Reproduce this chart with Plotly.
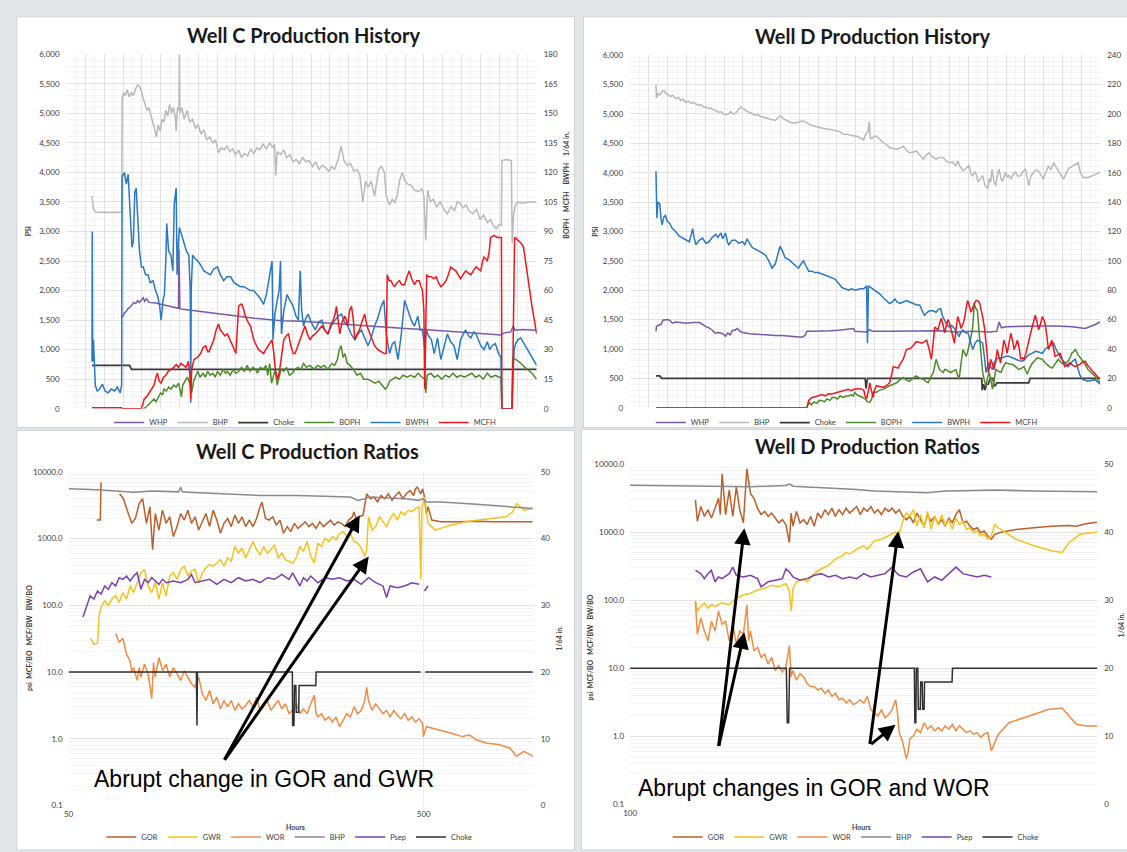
import math
import plotly.graph_objects as go

W, H = 1127, 852

# ---------------- Well C production history (hours, PSI or rate) ----------------
c_whp = [(119,1550),(123,1620),(127,1650),(131,1700),(135,1720),(139,1760),(143,1800),(147,1780),(151,1830),
         (155,1800),(159,1850),(163,1880),(166,1820),(170,1860),(175,1800),(180,1800),(190,1790),(200,1770),
         (215,1740),(230,1710),(238,1700),(239,2700),(241,1690),(260,1670),(280,1650),(300,1620),(330,1590),
         (360,1560),(400,1530),(440,1500),(456,1490),(458,1560),(460,1490),(500,1480),(550,1450),(600,1420),
         (640,1400),(680,1380),(720,1360),(760,1340),(800,1320),(850,1300),(900,1270),(924,1250),(930,1280),
         (945,1300),(950,1400),(954,1330),(970,1340),(1000,1330)]

c_bhp = [(54,3600),(57,3380),(62,3330),(80,3320),(100,3320),(117,3330),(118,5250),(121,5350),(125,5300),
         (129,5400),(133,5280),(138,5350),(142,5300),(147,5420),(151,5480),(155,5450),(159,5380),(163,5250),
         (167,5150),(171,5050),(175,5100),(179,4950),(183,4850),(187,4750),(191,4600),(195,4800),(199,4700),
         (203,4900),(207,4850),(211,5050),(215,4950),(219,5150),(223,5000),(227,5100),(231,4950),(233,4700),
         (236,5100),(239,5050),(240,6000),(241,5000),(245,5100),(250,4900),(256,5050),(262,4850),(268,4900),
         (274,4750),(280,4800),(286,4650),(292,4720),(298,4550),(304,4600),(311,4500),(317,4550),(323,4330),
         (329,4420),(335,4380),(341,4450),(347,4350),(353,4400),(359,4300),(366,4380),(372,4250),(378,4320),
         (385,4280),(392,4400),(398,4320),(405,4420),(411,4380),(418,4480),(425,4400),(432,4500),(438,4420),
         (442,4480),(445,3950),(448,4350),(455,4300),(462,4380),(468,4250),(475,4300),(482,4180),(488,4220),
         (495,4150),(502,4250),(509,4180),(516,4200),(523,4100),(530,4180),(537,4050),(544,4120),(551,4080),
         (558,4020),(564,4100),(570,4050),(577,4200),(584,4450),(590,4200),(597,4120),(604,4150),(611,4020),
         (618,4050),(624,3950),(630,3500),(636,3850),(641,3750),(648,3850),(655,3600),(660,3900),(664,4050),
         (670,4100),(676,4000),(680,3600),(687,3450),(693,3550),(698,3480),(703,3600),(708,3850),(714,4000),
         (720,3850),(726,3800),(733,3780),(740,3700),(748,3680),(756,3720),(760,3600),(764,2850),(768,3700),
         (774,3500),(780,3550),(787,3420),(795,3500),(802,3380),(810,3300),(818,3420),(825,3350),(831,3500),
         (837,3480),(844,3400),(850,3450),(856,3350),(864,3300),(872,3380),(880,3200),(887,3280),(895,3150),
         (902,3200),(908,3100),(914,3050),(920,3120),(925,3100),(926,4200),(935,4220),(946,4200),(947,3400),
         (948,2800),(951,3300),(955,3450),(960,3500),(970,3480),(985,3500),(1000,3500)]

c_choke = [(54,22),(134,22),(138,20),(1000,20)]

c_boph = [(163,0),(170,1),(176,2.5),(181,4),(186,5),(190,3.5),(195,6),(200,8),(204,7),(207,10),(212,9),
          (217,11),(222,10),(228,12),(233,11),(238,13),(242,9),(244,6),(247,12),(252,14),(257,16),(262,13),
          (266,8),(270,14),(275,17),(279,19),(284,16),(290,18),(295,16),(300,19),(305,17),(311,18),(316,16),
          (321,19),(327,17),(333,20),(338,18),(342,19),(348,17),(354,20),(360,18),(366,19),(372,21),(378,19),
          (384,22),(390,19),(396,21),(402,20),(406,18),(412,21),(418,20),(424,22),(428,17),(432,23),(436,13),
          (440,16),(444,20),(448,12),(452,17),(456,20),(462,19),(468,21),(474,17),(480,18),(486,20),(492,21),
          (498,20),(504,23),(510,21),(518,22),(526,20),(534,22),(541,21),(548,22),(556,20),(564,23),(570,22),
          (576,25),(580,30),(584,32),(588,26),(592,28),(597,23),(603,22),(610,20),(618,17),(625,18),(632,15),
          (641,15),(648,14),(656,13),(664,14),(672,12),(678,10),(682,11),(687,14),(694,15),(700,16),(708,15),
          (716,17),(724,16),(732,17),(740,16),(748,18),(756,16),(762,15),(764,8),(767,17),(775,18),(782,16),
          (790,17),(798,15),(806,17),(814,16),(822,18),(830,16),(838,17),(846,16),(854,17),(862,18),(870,16),
          (878,17),(886,15),(895,18),(903,16),(912,17),(920,16),(924,16),(926,0),(947,0),(949,26),(955,25),
          (962,24),(975,21),(990,18),(1000,15)]

c_bwph = [(54,24),(54.5,90),(55.5,24),(57,35),(59,25),(61,12),(65,9),(70,10),(76,12.5),(82,9),(88,8),
          (95,10),(102,9),(108,11),(114,8),(117,12),(118,118),(123,120),(127,114),(131,119),(135,100),(139,82),
          (142,85),(145,110),(148,112),(152,92),(155,80),(159,72),(163,72),(168,68),(173,68),(178,64),(184,65),
          (189,60),(194,57),(198,52),(201,45),(205,55),(208,58),(211,75),(213,94),(217,80),(222,78),(226,70),
          (229,104),(233,112),(235,68),(238,85),(240,92),(245,88),(249,85),(255,80),(260,78),(263,60),(264,3),
          (265,60),(268,78),(274,76),(279,75),(285,73),(292,70),(299,69),(306,68),(313,71),(321,72),(327,68),
          (334,65),(341,67),(349,67),(356,64),(363,63),(370,62),(377,62),(384,61),(391,60),(398,60),(405,58),
          (412,56),(419,53),(425,58),(430,65),(435,74),(437,75),(439,35),(443,48),(448,55),(452,60),(455,75),
          (457,38),(462,50),(469,58),(475,55),(482,52),(488,47),(493,45),(497,70),(500,50),(504,42),(509,46),
          (514,48),(520,44),(529,40),(536,44),(543,45),(549,40),(556,38),(563,42),(571,45),(578,47),(585,48),
          (591,44),(598,42),(605,38),(613,35),(620,38),(627,40),(634,36),(641,32),(648,36),(655,42),(662,46),
          (669,52),(675,55),(680,38),(687,28),(693,33),(698,34),(705,25),(712,38),(719,55),(726,50),(733,45),
          (740,42),(747,47),(752,40),(757,40),(762,30),(765,40),(770,37),(776,35),(782,28),(789,36),(796,25),
          (803,32),(810,38),(817,34),(824,32),(831,25),(838,35),(844,38),(849,40),(855,37),(860,36),(866,39),
          (871,38),(876,35),(881,32),(888,30),(895,34),(900,30),(905,32),(912,33),(919,28),(924,26),(926,0),
          (947,0),(952,30),(955,33),(960,35),(966,36),(973,33),(980,30),(990,26),(1000,22)]

c_mcfh = [(54,0.5),(117,0.5),(118,0),(158,0),(162,2),(165,5),(170,6),(175,8),(180,10),(186,12),(190,16),
          (193,18),(197,14),(201,13),(206,16),(211,17),(216,19),(222,20),(228,21),(233,22.5),(238,21),(243,23),
          (248,22),(254,21),(259,24),(262,18),(264,5),(266,20),(271,25),(278,26),(285,28),(290,31),(296,32),
          (300,29),(303,29),(308,32),(313,35),(318,40),(323,43),(327,40),(331,39),(337,37),(342,38),(348,35),
          (353,32),(357,30),(360,28),(363,40),(366,52),(370,53),(373,53),(377,50),(380,47),(386,44),(391,42),
          (395,38),(398,35),(404,32),(408,30),(414,29),(419,28),(426,31),(431,33),(437,35),(441,28),(444,20),
          (448,15),(452,18),(455,23),(459,30),(462,35),(467,37),(472,38),(477,32),(482,28),(486,28),(492,32),
          (497,35),(502,38),(507,42),(512,38),(518,35),(523,37),(529,38),(536,40),(543,42),(549,40),(556,38),
          (561,42),(567,45),(571,48),(574,52),(578,44),(581,38),(586,44),(592,47),(595,45),(598,42),(602,50),
          (606,52),(610,45),(613,35),(618,38),(623,40),(628,44),(634,48),(639,42),(645,38),(650,35),(655,32),
          (662,30),(669,29),(676,28),(680,28),(682,68),(686,65),(690,65),(694,63),(698,62),(703,64),(708,65),
          (713,63),(719,63),(724,67),(729,70),(734,66),(740,63),(745,65),(750,65),(754,62),(757,60),(760,50),
          (762,10),(764,40),(766,68),(771,67),(776,67),(781,66),(786,67),(791,64),(796,62),(801,63),(807,65),
          (812,68),(817,72),(822,71),(828,70),(833,68),(838,66),(843,68),(849,70),(854,69),(860,68),(865,70),
          (871,72),(876,71),(881,70),(885,75),(888,77),(892,76),(895,75),(899,80),(902,87),(909,88),(916,87),
          (925,87),(926,0),(948,0),(953,87),(958,86),(962,85),(967,84),(972,82),(976,75),(980,68),(990,52),
          (1000,38)]

# ---------------- Well D production history ----------------
d_whp = [(55,1300),(56,1380),(59,1400),(66,1420),(70,1490),(78,1500),(84,1490),(90,1440),(97,1460),(105,1450),
         (112,1450),(120,1440),(133,1450),(148,1450),(161,1380),(168,1360),(175,1320),(181,1270),(188,1280),
         (197,1260),(203,1220),(208,1270),(213,1240),(218,1320),(223,1320),(228,1350),(234,1300),(240,1280),
         (254,1260),(268,1250),(281,1240),(295,1240),(309,1230),(323,1230),(338,1220),(352,1210),(366,1200),
         (372,1230),(376,1300),(392,1300),(408,1300),(425,1310),(443,1320),(460,1330),(476,1350),(478,1300),
         (503,1290),(510,1330),(515,1300),(552,1300),(600,1300),(660,1310),(693,1290),(730,1300),(763,1290),
         (780,1300),(785,1460),(790,1360),(800,1380),(835,1390),(870,1390),(905,1390),(940,1380),(968,1350),
         (985,1400),(1000,1460)]

d_bhp = [(55,5500),(56,5270),(59,5350),(63,5320),(68,5380),(72,5400),(76,5350),(80,5330),(86,5300),(91,5320),
         (97,5260),(103,5280),(108,5230),(113,5250),(118,5200),(124,5220),(130,5180),(135,5200),(140,5170),
         (146,5150),(151,5160),(156,5120),(161,5120),(167,5090),(172,5100),(177,5070),(182,5060),(188,5030),
         (193,5040),(198,5000),(203,5000),(208,4990),(214,5040),(219,5000),(224,5010),(230,5080),(235,5120),
         (240,5090),(245,5060),(250,5040),(256,5020),(261,5000),(266,4980),(272,4990),(277,4960),(282,4950),
         (288,4930),(293,4920),(298,4910),(304,4900),(309,4890),(314,4930),(319,4970),(325,4930),(330,4900),
         (335,4880),(341,4860),(346,4850),(351,4840),(356,4860),(362,4870),(367,4880),(372,4870),(377,4840),
         (382,4820),(388,4800),(393,4790),(398,4780),(403,4770),(409,4760),(414,4760),(419,4740),(425,4740),
         (430,4730),(436,4720),(441,4710),(446,4700),(451,4670),(457,4650),(462,4660),(467,4640),(472,4635),
         (478,4630),(482,4620),(488,4600),(493,4580),(497,4560),(500,4640),(503,4680),(506,4700),(509,4870),
         (511,4600),(514,4580),(519,4620),(524,4620),(531,4560),(539,4510),(545,4480),(552,4430),(560,4410),
         (567,4400),(574,4420),(581,4450),(587,4390),(594,4340),(601,4350),(609,4370),(616,4300),(624,4230),
         (630,4300),(636,4340),(643,4270),(651,4230),(658,4260),(666,4260),(672,4200),(679,4170),(686,4180),
         (693,4120),(697,4200),(701,4120),(708,4030),(714,4080),(721,4120),(725,3980),(729,3950),(733,4020),
         (736,3980),(740,3840),(745,3900),(750,3950),(755,3780),(761,3730),(764,3900),(767,3840),(770,4060),
         (774,3850),(778,3780),(781,3950),(785,4060),(789,3900),(792,3850),(796,3950),(799,4010),(803,3920),
         (806,3960),(810,3890),(815,3970),(820,4010),(825,3940),(831,3950),(836,4030),(841,4060),(845,3900),
         (848,3780),(853,3950),(858,4010),(863,4050),(869,4030),(874,3970),(879,3890),(884,4000),(890,4120),
         (895,4050),(901,4170),(906,4100),(911,4030),(916,3980),(922,3890),(927,3980),(932,4060),(937,4090),
         (943,4120),(948,4140),(953,4170),(958,4000),(964,3920),(969,3920),(974,3920),(987,3960),(1000,4010)]

d_choke = [(55,21.7),(63,21.7),(67,20),(500,20),(502,13),(505,20),(748,20),(749,12),(752,16),(755,12),
           (758,16),(762,16),(766,20),(772,20),(774,15),(777,15),(780,17),(848,17),(851,20),(1000,20)]

d_boph = [(55,0),(376,0),(380,3.8),(386,2),(391,4),(397,3),(402,5),(408,5),(413,4),(419,6),(425,5),(430,7),
          (436,7),(441,6),(447,8),(453,7),(459,8),(465,8),(470,9),(475,8),(478,10.5),(482,9),(488,8),(494,7),
          (500,6),(505,4),(510,3.8),(514,6),(517,10.5),(524,10.5),(531,12),(539,12.7),(545,14),(552,15),
          (560,16),(567,17),(574,19),(581,20.6),(587,19),(594,18),(601,20),(609,21.7),(616,20),(624,19.4),
          (629,18),(634,17),(640,21),(645,24),(651,33),(655,28),(658,26),(662,25),(666,24),(669,26),(672,26),
          (677,25),(682,24),(687,25),(693,26),(696,23),(700,19.4),(704,30),(708,39.6),(712,37),(715,35),
          (718,38),(721,41.8),(725,48),(729,55),(732,71),(735,68),(739,66),(742,53),(746,38),(750,24),(754,18),
          (757,15),(760,20),(764,24),(768,18),(771,12.7),(775,20),(778,26),(783,25),(789,24),(794,28),
          (799,30.6),(806,30),(814,29.5),(820,28),(827,26),(833,27),(838,28),(842,25),(845,22.8),(850,27),
          (856,30.6),(861,32),(866,34),(872,33.5),(877,33),(882,31),(887,29.5),(892,28),(898,27),(904,30),
          (911,33),(916,31),(922,29.5),(927,30.5),(932,31.7),(936,34),(939,37),(943,38),(947,39.6),(950,38),
          (953,36),(958,34),(964,31.7),(969,29),(974,26),(981,24),(989,21.7),(995,19),(1000,17)]

d_bwph = [(55,161),(56,142),(57,129),(59,140),(63,139),(66,128),(68,124.5),(72,130),(75,131),(79,127),
          (84,125.6),(90,122),(97,120),(104,117),(112,115.5),(119,114),(126,113),(130,118),(133,122),(136,116),
          (140,111),(147,114),(154,115.5),(161,112),(168,113),(175,116),(182,118),(187,116),(193,119),(197,115),
          (200,117),(203,119),(207,113),(210,111),(217,114),(224,114),(231,112),(239,113),(244,111),(249,115),
          (254,112),(260,109),(267,108),(274,106.6),(281,105),(288,104),(295,100),(302,95),(309,98),(314,104),
          (319,110),(325,106),(330,102),(337,101),(344,99),(351,97),(358,95),(364,98),(369,100),(375,96),
          (380,93),(387,93),(393,92),(400,92),(408,91),(415,90),(422,89),(429,88),(436,87.6),(443,85),(450,82),
          (457,81),(465,80),(471,81),(478,80),(490,81),(497,81),(503,83),(505,44),(507,83),(512,82),(517,81),
          (524,79),(531,77.6),(538,75),(545,73),(552,71),(558,72),(563,74),(568,72),(574,71),(581,72),(588,73),
          (595,72),(602,71),(609,70),(616,70),(621,66),(626,63),(632,65),(637,66),(644,66),(651,65),(656,67),
          (661,67.5),(664,63),(668,60),(673,57),(679,55),(684,56),(690,54),(695,51),(700,48.5),(704,52),
          (708,53),(714,51),(719,50.7),(724,45),(729,39.6),(734,44),(739,46),(745,45),(750,44),(754,34),
          (757,24),(760,28),(764,30.6),(767,28),(771,26),(774,30),(778,33),(785,34),(792,34),(799,35),(806,35),
          (813,34),(820,33),(828,32),(835,31.7),(841,34),(848,36),(855,37),(862,38.4),(869,38),(877,37),
          (883,40),(890,41.8),(895,43),(901,44),(906,40),(911,37),(916,34),(922,31.7),(927,30),(932,28),
          (937,30),(942,32),(947,33),(952,28),(957,22),(962,19.4),(968,18.5),(974,18),(981,18.5),(989,19),
          (995,17.5),(1000,16)]

d_mcfh = [(55,0),(376,0),(380,5),(387,7),(394,7.5),(401,8),(408,9),(415,8),(422,9.5),(429,9.4),(436,10),
          (443,10.5),(450,11),(457,11.6),(464,12.5),(471,11.6),(478,12.7),(490,13),(497,12),(500,8),(503,6),
          (506,10),(510,17),(513,12),(517,7),(520,12),(524,15),(531,14.5),(539,13.9),(545,15),(552,17),(556,22),
          (560,28),(565,27.5),(570,27),(575,30),(581,33),(588,39.6),(593,40),(598,40.7),(604,43),(609,45),
          (615,44.5),(620,44),(626,45),(631,46),(636,40),(641,33),(645,45),(648,55),(652,54),(655,53),(659,58),
          (662,61),(666,56),(669,51),(672,55),(676,60),(680,57),(683,53),(687,48),(690,44),(694,55),(697,62),
          (701,58),(704,54),(708,57),(711,60),(715,68),(718,73),(722,69),(725,65),(729,68),(732,71),(736,73),
          (739,73),(742,72),(744,71),(747,66),(750,62),(754,54),(757,46),(760,35),(762,24),(765,28),(767,33),
          (771,30),(774,26),(778,32),(781,39.6),(785,35),(788,30.6),(792,38),(795,46),(799,42),(802,37),
          (806,44),(810,50.7),(814,45),(817,39.6),(821,43),(824,46),(828,40),(831,33),(835,34),(838,33),
          (842,37),(845,41.8),(849,46),(852,50.7),(857,57),(862,63),(866,58),(869,53),(873,57),(877,62),
          (880,60),(883,57),(887,48),(890,39.6),(894,43),(897,46),(901,40),(904,35),(910,36),(915,37),(920,32),
          (925,28),(930,29),(936,30.6),(941,29),(947,28),(952,29),(957,29.5),(962,31),(968,31.7),(973,29),
          (978,27),(984,25),(989,22.8),(995,21),(1000,19.4)]

# ---------------- Well C production ratios (hours, ratio) ----------------
rc_gor = [(60.0,1890),(61.4,1890),(61.7,6960),(None,None),(69.6,4680),(71.3,3950),(73.1,2660),(75.3,1690),
          (77.1,2000),(79.0,3330),(80.8,3950),(82.8,1690),(84.7,2980),(86.2,680),(87.7,2370),(89.8,1340),
          (91.9,2660),(94.1,1690),(96.3,2120),(98.6,1070),(101.0,1510),(103.4,2370),(105.8,1890),(108.3,2660),
          (110.9,1690),(113.5,2120),(116.2,1340),(119.0,1780),(121.8,2370),(124.7,1510),(127.6,2660),
          (130.7,1890),(133.8,1200),(136.9,1690),(140.2,2000),(143.5,1510),(146.9,2240),(150.4,1690),
          (153.9,2120),(157.6,1510),(161.3,1890),(165.2,1510),(169.1,2000),(173.0,2980),(175.1,3530),
          (179.2,2000),(183.5,1890),(187.8,2120),(192.3,1590),(196.9,1890),(201.5,1200),(206.3,1510),
          (211.2,1270),(216.2,1690),(221.3,1420),(226.6,1590),(231.9,1780),(237.4,1510),(243.1,1690),
          (248.8,1420),(254.7,1780),(260.8,1510),(266.9,1690),(273.3,1890),(279.7,1590),(286.4,1780),
          (293.2,1690),(300.2,1510),(307.3,1890),(314.5,2120),(318.2,2510),(322.0,2000),(329.6,2120),
          (337.4,2240),(345.3,4680),(353.5,3950),(361.9,4180),(370.5,3530),(379.3,4420),(388.3,3950),
          (397.5,4680),(406.9,3730),(416.5,4420),(426.4,4950),(436.5,3950),(446.8,4680),(457.4,5240),
          (468.3,4420),(473.8,5550),(479.4,5870),(485.0,5240),(490.8,4680),(496.5,5550),(502.4,4180),
          (508.3,2370),(514.3,2980),(526.5,1890),(558,1780),(627,1780),(705,1820),(793,1780),(891,1760),
          (1013,1780)]

rc_gwr = [(57.7,32),(58.9,26),(60.3,27),(61.0,75),(62.0,99),(63.2,117),(64.7,99),(66.2,124),(67.8,139),
          (69.4,110),(71.1,155),(72.8,124),(74.5,195),(76.2,155),(78.0,218),(79.9,307),(81.8,344),(83.7,195),
          (85.7,155),(87.7,218),(89.8,124),(91.9,218),(94.1,139),(96.3,274),(98.6,307),(101.0,245),(103.4,344),
          (105.8,385),(108.3,274),(110.9,325),(113.5,344),(116.2,218),(119.0,307),(121.8,364),(124.7,408),
          (127.6,385),(130.7,431),(133.8,483),(136.9,385),(140.2,512),(143.5,457),(146.9,761),(150.4,607),
          (153.9,719),(157.6,512),(161.3,680),(165.2,902),(169.1,680),(173.0,573),(177.1,761),(181.3,607),
          (185.6,680),(190.0,805),(194.6,512),(199.2,607),(203.9,483),(208.8,457),(213.7,431),(218.7,512),
          (223.9,761),(229.2,642),(234.7,902),(240.3,541),(245.9,431),(251.8,852),(257.7,761),(263.8,1010),
          (270.1,902),(276.5,1070),(283.0,955),(289.8,1200),(296.7,1270),(303.7,1070),(310.8,1200),(318.2,902),
          (325.7,852),(333.4,719),(341.3,541),(345.3,680),(349.4,2120),(357.7,1340),(366.2,1510),(374.9,2120),
          (383.8,1780),(392.8,1510),(402.1,2000),(411.6,2370),(421.4,1890),(431.4,2510),(441.6,2240),
          (452.1,2660),(462.8,2510),(473.8,2810),(485.0,2980),(490.8,245),(494.2,2980),(502.4,4180),
          (514.3,1690),(526.5,1510),(539.0,1340),(558,1420),(599,1590),(657,1780),(705,1890),(773,2000),
          (852,2120),(891,2510),(913,3330),(958,2660),(1013,2810)]

rc_wor = [(67.8,38),(69.4,28),(71.1,32),(72.8,18.4),(74.5,14.7),(75.3,10),(76.2,11.7),(78.0,7.5),(79.0,11.7),
          (79.9,8.4),(81.8,13.1),(83.7,9.4),(85.7,4.0),(86.7,13.9),(87.7,8.4),(89.8,16.5),(91.9,10.5),
          (94.1,13.1),(96.3,8.4),(98.6,11.7),(101.0,9.4),(103.4,7.5),(105.8,10.5),(108.3,8.4),(110.9,6.7),
          (113.5,5.9),(116.2,8.4),(119.0,4.7),(121.8,3.75),(124.7,5.3),(127.6,3.35),(130.7,4.2),(133.8,2.8),
          (136.9,3.75),(140.2,3.0),(143.5,3.75),(146.9,2.67),(150.4,3.35),(153.9,2.8),(157.6,3.16),(161.3,3.75),
          (165.2,3.0),(169.1,4.2),(173.0,2.67),(177.1,3.35),(181.3,3.75),(185.6,2.67),(190.0,3.16),(194.6,3.75),
          (199.2,2.8),(203.9,3.35),(208.8,2.38),(213.7,2.67),(218.7,3.35),(223.9,2.38),(229.2,2.8),(234.7,2.38),
          (240.3,3.35),(245.9,4.5),(248.8,2.38),(251.8,2.13),(257.7,2.38),(263.8,1.90),(270.1,2.13),(276.5,1.79),
          (283.0,2.13),(289.8,1.52),(296.7,1.90),(303.7,2.38),(310.8,2.13),(318.2,3.0),(325.7,2.38),(333.4,2.67),
          (341.3,3.75),(345.3,5.9),(349.4,3.75),(357.7,2.67),(366.2,3.35),(374.9,2.8),(383.8,2.38),(392.8,2.67),
          (402.1,2.13),(411.6,2.67),(421.4,2.25),(431.4,2.0),(441.6,2.38),(452.1,1.90),(462.8,2.13),(473.8,1.79),
          (485.0,2.0),(496.5,1.70),(498.8,1.08),(508.3,1.52),(532.7,1.43),(558,1.35),(599,1.21),(642,1.08),
          (673,1.14),(705,0.96),(755,0.86),(812,0.82),(873,0.73),(913,0.55),(958,0.65),(1013,0.55)]

rc_bhp = [(50,5550),(60,5400),(68,5150),(76,4950),(86,5150),(96,5040),(102,5000),(103.4,5870),(104.5,5000),
          (108,4950),(137,4680),(173,4420),(219,4420),(277,4300),(311,4180),(326,3730),(341,3950),(349,4180),
          (442,3950),(485,3730),(497,3950),(508,3530),(558,3530),(705,3260),(891,2980),(1013,2810)]

rc_psep = [(54.9,67),(56.2,99),(57.5,139),(58.9,124),(60.3,164),(61.7,147),(63.2,195),(64.7,174),(66.2,218),
           (67.8,195),(69.4,259),(71.1,245),(72.8,274),(74.5,231),(76.2,274),(78.0,307),(79.9,174),(81.8,245),
           (83.7,218),(85.7,259),(87.7,231),(89.8,206),(91.9,245),(94.1,218),(98.6,231),(103.4,218),(108.3,245),
           (110.9,290),(113.5,218),(119.0,231),(124.7,245),(130.7,206),(136.9,245),(143.5,218),(150.4,259),
           (157.6,231),(165.2,245),(173.0,218),(181.3,259),(190.0,245),(199.2,290),(208.8,245),(213.7,307),
           (218.7,245),(223.9,195),(229.2,259),(234.7,231),(240.3,274),(251.8,218),(263.8,259),(276.5,245),
           (289.8,259),(303.7,231),(318.2,245),(333.4,206),(349.4,259),(366.2,218),(383.8,195),(392.8,131),
           (402.1,195),(421.4,184),(441.6,195),(462.8,218),(485.0,206),(None,None),(502.4,164),(514.3,195)]

rc_choke = [(50,20),(114.5,20),(114.9,12),(115.3,20),(213.3,20),(213.7,12),(215.5,12),(216.2,18),(218.2,18),
            (218.7,14),(222.3,14),(222.8,18),(248.4,18),(248.8,20),(490,20),(None,None),(505,20),(1013,20)]

# ---------------- Well D production ratios ----------------
rd_gor = [(138.0,2960),(139.3,1440),(141.7,2370),(144.2,1700),(146.8,2125),(149.3,1610),(152.0,2245),
          (154.6,3120),(156.0,1800),(157.4,7170),(160.1,1800),(163.0,4130),(165.9,1700),(168.8,4600),
          (171.7,2125),(174.8,1365),(177.8,8470),(181.0,3690),(184.2,3120),(187.4,2245),(190.7,1800),
          (194.1,2010),(197.5,1700),(201.0,1900),(204.5,1610),(208.1,1365),(211.8,1520),(215.5,1290),
          (219.3,702),(221.2,1900),(223.2,1220),(227.1,2010),(231.1,1365),(235.2,1520),(239.3,1290),
          (243.5,1700),(247.8,1220),(252.2,1900),(256.6,1610),(261.2,2125),(265.8,1800),(270.4,2245),
          (275.2,1700),(280.0,2125),(285.0,1800),(290.0,2245),(295.1,1900),(300.3,2125),(305.6,2370),
          (311.0,1800),(316.4,2245),(322.0,2010),(327.7,2370),(333.5,1900),(339.3,2125),(345.3,1800),
          (351.4,2245),(357.6,2010),(363.9,2245),(370.3,1900),(376.8,2125),(383.5,1700),(390.2,1520),
          (397.1,1700),(404.1,1365),(411.2,1900),(418.5,1520),(425.9,1220),(433.3,1800),(441.0,1440),
          (448.8,1700),(456.7,1290),(464.7,1520),(472.8,1220),(481.2,1610),(489.6,1365),(498.3,1800),
          (507.0,2125),(516.0,1365),(525.1,1440),(534.3,1220),(543.7,1090),(553.3,1155),(563.0,978),
          (572.9,1035),(583.0,876),(593.3,784),(603.7,926),(625.2,1000),(670.5,1090),(731.6,1155),
          (798.3,1220),(871.2,1250),(902.2,1220),(950.6,1335),(1000,1395)]

rd_gwr = [(138.0,95.7),(139.3,68.7),(141.7,81),(144.2,90.6),(146.8,76.7),(149.3,85.7),(152.0,81),(157.4,90.6),
          (163.0,85.7),(168.8,107),(174.8,119),(181.0,126),(187.4,141),(194.1,149),(201.0,166),(208.1,157),
          (215.5,176),(219.3,133),(221.2,68.7),(223.2,149),(227.1,186),(235.2,207),(239.3,186),(247.8,245),
          (256.6,289),(265.8,323),(275.2,403),(285.0,450),(290.0,503),(295.1,476),(305.6,562),(316.4,628),
          (322.0,562),(333.5,742),(345.3,784),(357.6,876),(370.3,1000),(376.8,926),(383.5,1440),(390.2,1900),
          (397.1,1700),(404.1,2125),(411.2,1220),(418.5,1800),(425.9,1155),(433.3,2010),(441.0,1090),
          (448.8,1700),(456.7,1290),(464.7,1800),(472.8,1220),(481.2,1520),(489.6,1090),(498.3,1610),
          (507.0,1290),(516.0,1440),(525.1,1090),(534.3,1155),(543.7,978),(553.3,1035),(563.0,876),(572.9,926),
          (583.0,784),(593.3,876),(603.7,1290),(614.4,1155),(670.5,784),(731.6,628),(798.3,532),(841.2,503),
          (871.2,702),(918.1,926),(967.3,978),(1000,1000)]

rd_wor = [(138.0,95.7),(139.3,31.6),(141.7,55),(144.2,35.3),(146.8,25.3),(149.3,49.2),(152.0,35.3),
          (154.6,68.7),(157.4,44.1),(160.1,49.2),(163.0,25.3),(165.9,44.1),(168.8,22.6),(171.7,35.3),
          (174.8,31.6),(177.8,85.7),(179.4,25.3),(181.0,35.3),(184.2,18.1),(187.4,20.3),(190.7,14.5),
          (194.1,16.2),(197.5,11.6),(201.0,14.5),(204.5,9.3),(208.1,11.0),(211.8,8.8),(215.5,10.4),(219.3,21.4),
          (221.2,7.5),(223.2,9.3),(227.1,6.7),(231.1,8.4),(235.2,7.5),(239.3,6.0),(243.5,5.4),(247.8,5.4),
          (252.2,4.8),(256.6,5.1),(261.2,4.3),(265.8,4.8),(270.4,3.87),(275.2,4.3),(280.0,3.46),(285.0,3.66),
          (290.0,3.1),(295.1,3.46),(300.3,2.93),(305.6,3.1),(311.0,3.46),(316.4,3.1),(322.0,3.87),(327.7,2.48),
          (333.5,2.22),(339.3,1.99),(345.3,2.48),(351.4,1.88),(357.6,2.10),(363.9,2.48),(370.3,3.46),
          (373.6,2.22),(376.8,1.14),(383.5,0.82),(390.2,0.47),(393.7,0.59),(397.1,0.92),(404.1,1.02),
          (411.2,1.28),(418.5,1.14),(425.9,1.59),(433.3,1.28),(441.0,1.43),(448.8,1.21),(456.7,1.35),
          (464.7,1.21),(472.8,1.43),(481.2,1.28),(489.6,1.51),(498.3,1.21),(507.0,1.43),(516.0,1.28),
          (525.1,1.14),(534.3,1.21),(543.7,1.08),(553.3,1.14),(563.0,0.97),(572.9,1.08),(583.0,1.14),
          (593.3,0.62),(614.4,1.08),(647.4,1.59),(682.3,1.78),(731.6,2.10),(784.5,2.48),(841.2,2.62),
          (902.2,1.51),(950.6,1.43),(1000,1.43)]

rd_bhp = [(100,4870),(127.6,4710),(181,4600),(215.5,4820),(219.3,5040),(223.2,4710),(256.6,4510),(305.6,4220),
          (333.5,3990),(363.9,3900),(397.1,3810),(433.3,3770),(472.8,3990),(516.0,4040),(614.4,4130),
          (731.6,3990),(871.2,3950),(1000,3900)]

rd_psep = [(138.0,273),(141.7,245),(144.2,207),(146.8,245),(149.3,273),(152.0,186),(154.6,219),(157.4,207),
           (163.0,245),(165.9,306),(168.8,232),(174.8,219),(181.0,232),(187.4,207),(190.7,157),(197.5,186),
           (204.5,196),(211.8,207),(215.5,289),(219.3,259),(223.2,219),(231.1,196),(239.3,207),(247.8,232),
           (256.6,245),(265.8,219),(275.2,232),(285.0,207),(295.1,219),(305.6,207),(316.4,245),(327.7,219),
           (339.3,232),(351.4,245),(363.9,306),(370.3,259),(376.8,232),(390.2,219),(404.1,259),(418.5,289),
           (433.3,186),(448.8,219),(464.7,196),(481.2,245),(498.3,306),(516.0,245),(534.3,232),(553.3,219),
           (572.9,232),(593.3,219)]

rd_choke = [(100,20),(216,20),(217,12),(218.5,12),(219.5,20),(406,20),(407,12),(409,12),(410,20),(413,20),
            (414,14),(418,14),(419,18),(422,18),(423,14),(426,14),(427,18),(489,18),(490,20),(1000,20)]

# Arrow annotations: (head hours, head value), (tail hours, tail value)
arrows_c = [((330, 2240), (136.6, 0.46)), ((350, 540), (136.6, 0.46))]
arrows_d = [((175.6, 1140), (154.6, 0.69)), ((175.6, 33.7), (154.6, 0.69)),
            ((375, 1030), (325.7, 0.74)), ((370, 1.49), (325.7, 0.74))]

# ---------------- styling ----------------
COL = dict(WHP='#7a5aa8', BHP='#b9b9b9', Choke='#3a3a3a', BOPH='#4f8a2a', BWPH='#2a78c2', MCFH='#f0161b',
           GOR='#b95f2a', GWR='#f5c21b', WOR='#ef8c45', RBHP='#8a8a8a', Psep='#7b3fb0', RChoke='#303030')
FONT = 'Lato'
TICK = dict(family=FONT, size=8, color='#404040')


def px(x):
    return x / W


def py(y):
    return 1 - y / H


def xy(pairs):
    return [p[0] for p in pairs], [p[1] for p in pairs]


fig = go.Figure()


def add(pairs, name, color, xa, ya, legend, width=1.5):
    x, y = xy(pairs)
    fig.add_trace(go.Scatter(x=x, y=y, mode='lines', name=name, line=dict(color=color, width=width),
                             xaxis=xa, yaxis=ya, legend=legend, connectgaps=False, hoverinfo='skip'))


# Well C history
add(c_whp, 'WHP', COL['WHP'], 'x', 'y', 'legend')
add(c_bhp, 'BHP', COL['BHP'], 'x', 'y', 'legend')
add(c_choke, 'Choke', COL['Choke'], 'x', 'y2', 'legend', 1.7)
add(c_boph, 'BOPH', COL['BOPH'], 'x', 'y2', 'legend')
add(c_bwph, 'BWPH', COL['BWPH'], 'x', 'y2', 'legend')
add(c_mcfh, 'MCFH', COL['MCFH'], 'x', 'y2', 'legend')
# Well D history
add(d_whp, 'WHP', COL['WHP'], 'x2', 'y3', 'legend2')
add(d_bhp, 'BHP', COL['BHP'], 'x2', 'y3', 'legend2')
add(d_choke, 'Choke', COL['Choke'], 'x2', 'y4', 'legend2', 1.7)
add(d_boph, 'BOPH', COL['BOPH'], 'x2', 'y4', 'legend2')
add(d_bwph, 'BWPH', COL['BWPH'], 'x2', 'y4', 'legend2')
add(d_mcfh, 'MCFH', COL['MCFH'], 'x2', 'y4', 'legend2')
# Well C ratios
add(rc_gor, 'GOR', COL['GOR'], 'x3', 'y5', 'legend3')
add(rc_gwr, 'GWR', COL['GWR'], 'x3', 'y5', 'legend3')
add(rc_wor, 'WOR', COL['WOR'], 'x3', 'y5', 'legend3')
add(rc_bhp, 'BHP', COL['RBHP'], 'x3', 'y5', 'legend3')
add(rc_psep, 'Psep', COL['Psep'], 'x3', 'y5', 'legend3')
add(rc_choke, 'Choke', COL['RChoke'], 'x3', 'y6', 'legend3')
# Well D ratios
add(rd_gor, 'GOR', COL['GOR'], 'x4', 'y7', 'legend4')
add(rd_gwr, 'GWR', COL['GWR'], 'x4', 'y7', 'legend4')
add(rd_wor, 'WOR', COL['WOR'], 'x4', 'y7', 'legend4')
add(rd_bhp, 'BHP', COL['RBHP'], 'x4', 'y7', 'legend4')
add(rd_psep, 'Psep', COL['Psep'], 'x4', 'y7', 'legend4')
add(rd_choke, 'Choke', COL['RChoke'], 'x4', 'y8', 'legend4')

GRID = '#e2e2e2'
MINOR = '#f3f3f3'


def hist_x(dom):
    return dict(domain=dom, range=[0, 1000], showticklabels=False, showgrid=True, gridcolor=GRID,
                dtick=40, zeroline=False, showline=False,
                minor=dict(dtick=20, showgrid=True, gridcolor=MINOR))


def hist_y(dom, anchor):
    return dict(domain=dom, anchor=anchor, range=[0, 6000], dtick=500, tickformat=',d', tickfont=TICK,
                showgrid=True, gridcolor=GRID, zeroline=False, ticklabelstandoff=6,
                minor=dict(dtick=100, showgrid=True, gridcolor=MINOR))


def right_y(over, anchor, top, step):
    return dict(overlaying=over, anchor=anchor, side='right', range=[0, top], dtick=step, tickfont=TICK,
                showgrid=False, zeroline=False, ticklabelstandoff=6)


def ratio_y(dom, anchor):
    return dict(domain=dom, anchor=anchor, type='log', range=[-1, 4],
                tickvals=[0.1, 1, 10, 100, 1000, 10000],
                ticktext=['0.1', '1.0', '10.0', '100.0', '1000.0', '10000.0'],
                tickfont=TICK, showgrid=True, gridcolor=GRID, zeroline=False, ticklabelstandoff=5,
                minor=dict(dtick='D1', showgrid=True, gridcolor=MINOR))


def ratio_x(dom, lo, hi, vals, anchor):
    return dict(domain=dom, anchor=anchor, type='log', range=[math.log10(lo), math.log10(hi)],
                tickvals=vals, ticktext=[str(v) for v in vals], tickfont=TICK, showgrid=True,
                gridcolor='#ececec', zeroline=False, ticklabelstandoff=2)


legend_common = dict(orientation='h', xanchor='center', yanchor='middle', bgcolor='rgba(0,0,0,0)',
                     font=dict(family=FONT, size=7.5, color='#404040'), itemwidth=30, tracegroupgap=0)

fig.update_layout(
    width=W, height=H, margin=dict(l=0, r=0, t=0, b=0),
    paper_bgcolor='#e3e6e9', plot_bgcolor='white',
    font=dict(family=FONT),
    xaxis=hist_x([px(60), px(533)]),
    yaxis=hist_y([py(410), py(50)], 'x'),
    yaxis2=right_y('y', 'x', 180, 15),
    xaxis2=hist_x([px(627), px(1100)]),
    yaxis3=hist_y([py(409), py(51)], 'x2'),
    yaxis4=right_y('y3', 'x2', 240, 20),
    xaxis3=ratio_x([px(62), px(530)], 50, 1020, [50, 500], 'y5'),
    yaxis5=ratio_y([py(813), py(474)], 'x3'),
    yaxis6=right_y('y5', 'x3', 50, 10),
    xaxis4=ratio_x([px(627), px(1097)], 100, 1000, [100], 'y7'),
    yaxis7=ratio_y([py(812), py(466)], 'x4'),
    yaxis8=right_y('y7', 'x4', 50, 10),
    legend=dict(legend_common, x=px(300), y=py(424)),
    legend2=dict(legend_common, x=px(845), y=py(424)),
    legend3=dict(legend_common, x=px(284), y=py(845)),
    legend4=dict(legend_common, x=px(854), y=py(845)),
)

# white chart panels
for x0, y0, x1, y1 in [(10, 12, 571, 429), (580, 12, 1132, 429), (10, 432, 571, 858), (578, 431, 1132, 858)]:
    fig.add_shape(type='rect', xref='paper', yref='paper', x0=px(x0), x1=px(x1), y0=py(y1), y1=py(y0),
                  fillcolor='white', line=dict(color='#cfd3d6', width=1), layer='below')

notes = []


def label(x, y, text, size=7, angle=0, bold=True, color='#404040', family=FONT, anchor='center'):
    notes.append(dict(xref='paper', yref='paper', x=px(x), y=py(y), text=('<b>%s</b>' % text) if bold else text,
                      showarrow=False, textangle=angle, xanchor=anchor, yanchor='middle',
                      font=dict(family=family, size=size, color=color)))


label(298, 30, 'Well C Production History', size=20, color='#1a1a1a')
label(871, 31, 'Well D Production History', size=20, color='#1a1a1a')
label(302, 453, 'Well C Production Ratios', size=20, color='#1a1a1a')
label(866, 448, 'Well D Production Ratios', size=20, color='#1a1a1a')

label(22, 230, 'PSI', angle=-90)
label(563, 183, 'BOPH&nbsp;&nbsp;&nbsp;&nbsp;MCFH&nbsp;&nbsp;&nbsp;&nbsp;BWPH&nbsp;&nbsp;&nbsp;&nbsp;1/64 in.', angle=-90)
label(592, 230, 'PSI', angle=-90)
label(22, 643, 'psi&nbsp;&nbsp;MCF/BO&nbsp;&nbsp;&nbsp;MCF/BW&nbsp;&nbsp;&nbsp;BW/BO', angle=-90)
label(556, 643, '1/64 in.', angle=-90)
label(587, 652, 'psi&nbsp;&nbsp;MCF/BO&nbsp;&nbsp;&nbsp;MCF/BW&nbsp;&nbsp;&nbsp;BW/BO', angle=-90)
label(1121, 630, '1/64 in.', angle=-90)
label(290, 835, 'Hours', size=7)
label(860, 835, 'Hours', size=7)

label(86, 786, 'Abrupt change in GOR and GWR', size=23, bold=False, color='black',
      family='Liberation Sans', anchor='left')
label(633, 795, 'Abrupt changes in GOR and WOR', size=23, bold=False, color='black',
      family='Liberation Sans', anchor='left')

for arrows, xa, ya in [(arrows_c, 'x3', 'y5'), (arrows_d, 'x4', 'y7')]:
    for (hx, hy), (tx, ty) in arrows:
        notes.append(dict(xref=xa, yref=ya, axref=xa, ayref=ya, x=math.log10(hx), y=math.log10(hy),
                          ax=math.log10(tx), ay=math.log10(ty), text='', showarrow=True, arrowhead=2,
                          arrowsize=1.1, arrowwidth=3, arrowcolor='black', standoff=0))

fig.update_layout(annotations=notes)
fig.write_html('out.html')
